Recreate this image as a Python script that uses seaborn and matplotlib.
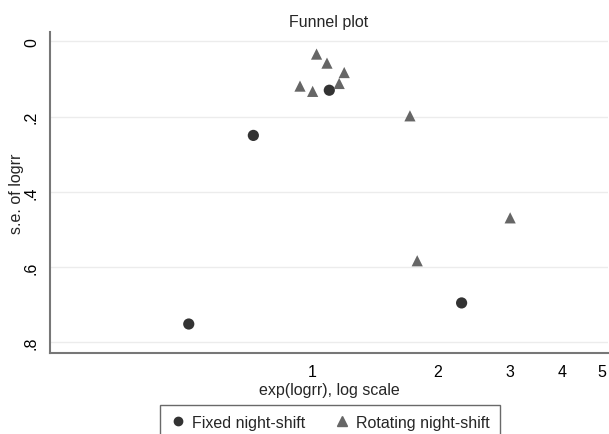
# Funnel plot: exp(logrr) vs s.e. of logrr, Stata look

import pandas as pd
import matplotlib
matplotlib.use("Agg")
import matplotlib.pyplot as plt
import seaborn as sns

# Values
fixed_rr = [1.097, 0.719, 0.502, 2.29]
fixed_se = [0.130, 0.250, 0.751, 0.695]
rotating_rr = [1.022, 1.083, 1.192, 0.932, 1.000, 1.159, 1.718, 3.00, 1.789]
rotating_se = [0.034, 0.058, 0.083, 0.119, 0.133, 0.112, 0.198, 0.469, 0.583]
group_names = ["Fixed night-shift", "Rotating night-shift"]
x_ticks = [1, 2, 3, 4, 5]
y_ticks = [0, 0.2, 0.4, 0.6, 0.8]
y_tick_labels = ["0", ".2", ".4", ".6", ".8"]

df = pd.DataFrame({
    "rr": fixed_rr + rotating_rr,
    "se": fixed_se + rotating_se,
    "group": [group_names[0]] * len(fixed_rr) + [group_names[1]] * len(rotating_rr),
})

sns.set_style("white")
plt.rcParams["font.family"] = ["Liberation Sans", "DejaVu Sans"]

fig = plt.figure(figsize=(6.09, 4.35), dpi=100)
ax = fig.add_axes([50 / 609, 81 / 435, 558 / 609, 321.3 / 435])

sns.scatterplot(data=df, x="rr", y="se", hue="group", style="group",
                markers={group_names[0]: "o", group_names[1]: "^"},
                palette={group_names[0]: "#333333", group_names[1]: "#666666"},
                s=65, linewidth=0, ax=ax, legend=False, zorder=3)

ax.set_xscale("log")
ax.set_xlim(0.232, 5.17)
ax.set_ylim(0.828, -0.0255)
ax.set_xticks(x_ticks)
ax.set_xticklabels([str(t) for t in x_ticks])
ax.xaxis.set_minor_locator(matplotlib.ticker.NullLocator())
ax.set_yticks(y_ticks)
ax.set_yticklabels(y_tick_labels, rotation=90, va="center")

ax.grid(axis="y", color="#ececec", linewidth=1)
ax.grid(axis="x", visible=False)
for side in ["top", "right"]:
    ax.spines[side].set_visible(False)
for side in ["left", "bottom"]:
    ax.spines[side].set_color("#777777")
    ax.spines[side].set_linewidth(1.5)
ax.tick_params(axis="both", direction="out", length=5, width=1, color="#777777",
               labelsize=11.5, labelcolor="black", pad=3)

ax.set_title("Funnel plot", fontsize=11.5, pad=4)
ax.set_xlabel("exp(logrr), log scale", fontsize=11.5, labelpad=2)
ax.set_ylabel("s.e. of logrr", fontsize=11.5, labelpad=0)

# Legend under the plot, box runs off the bottom edge
handles = [
    plt.Line2D([], [], marker="o", linestyle="none", color="#333333", markersize=6),
    plt.Line2D([], [], marker="^", linestyle="none", color="#666666", markersize=7),
]
leg = fig.legend(handles, group_names, loc="upper center", ncol=2,
                 bbox_to_anchor=(330 / 609, 1 - 406 / 435), borderaxespad=0,
                 fontsize=11.5, frameon=True, fancybox=False, edgecolor="#444444",
                 borderpad=0.6, handletextpad=0.4, columnspacing=1.8,
                 handlelength=1.0)
leg.get_frame().set_linewidth(1.0)

plt.savefig("out.png", dpi=100)
plt.close()
